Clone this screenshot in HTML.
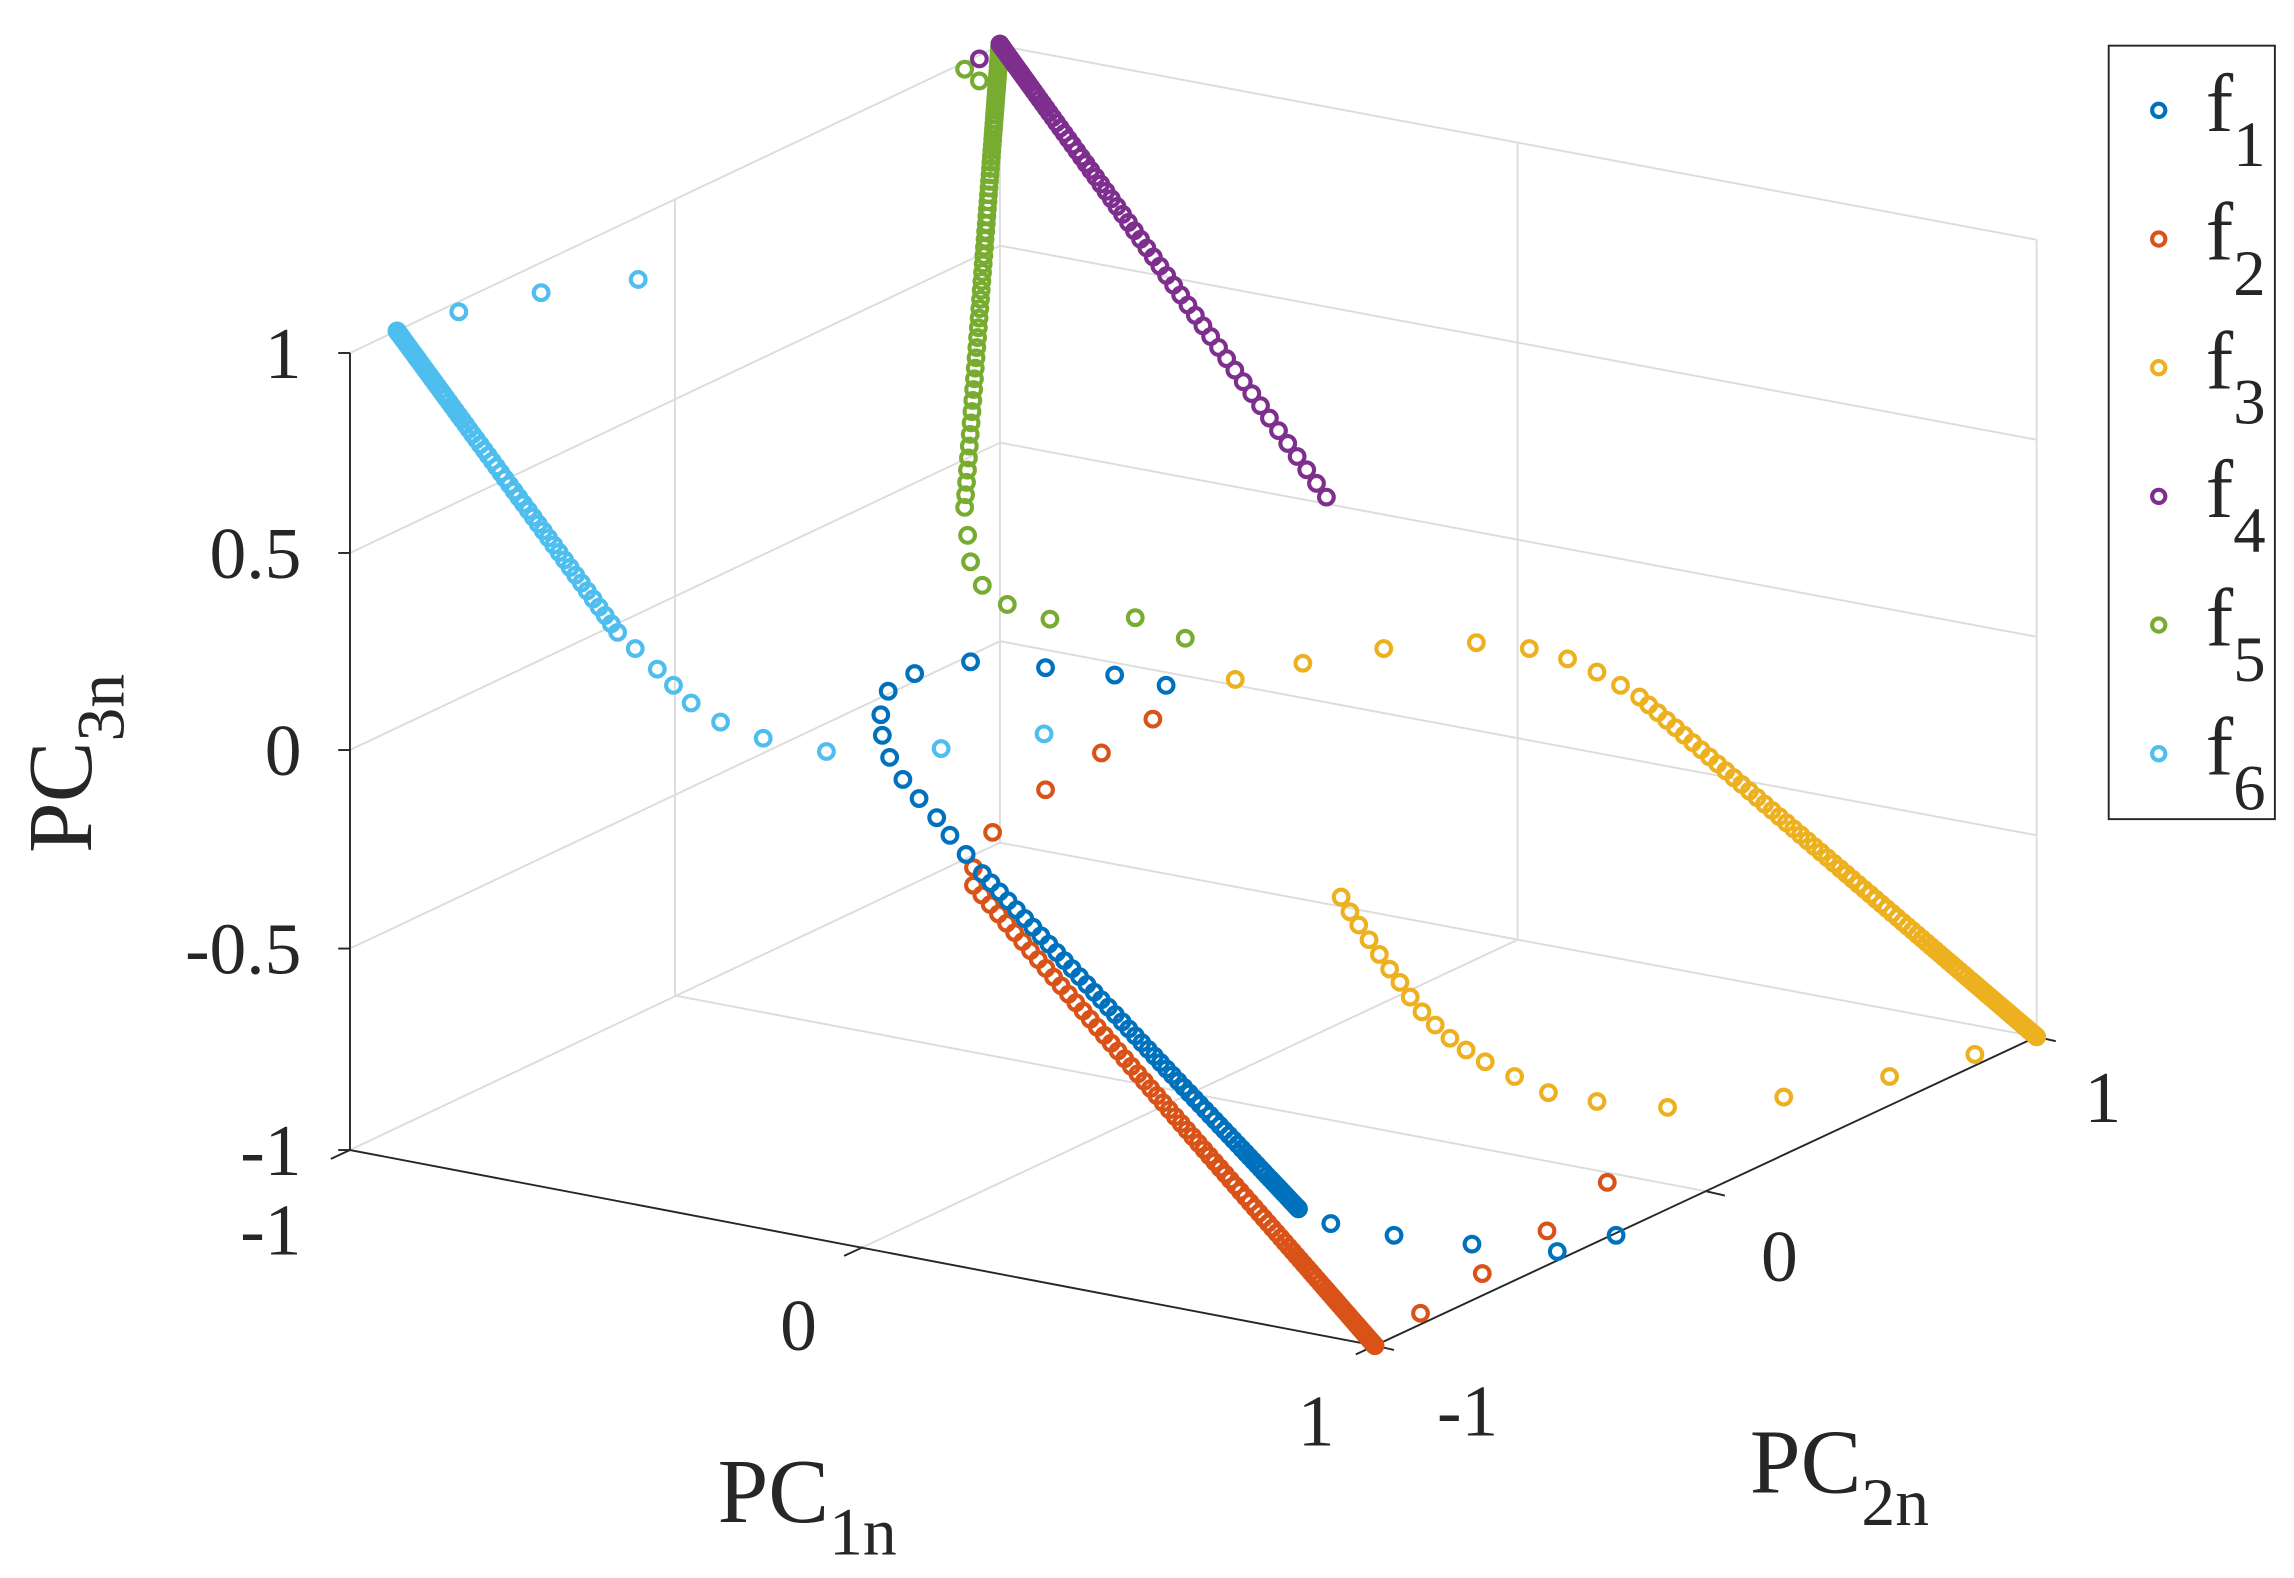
<!DOCTYPE html>
<html><head><meta charset="utf-8"><style>
html,body{margin:0;padding:0;background:#fff;}
svg{display:block;}
text{font-family:"Liberation Serif","Times New Roman",serif;fill:#262626;}
</style></head><body>
<svg id="s" width="2294" height="1578" viewBox="0 0 1560 1073" xmlns="http://www.w3.org/2000/svg">
<rect width="1560" height="1073" fill="#fff"/>
<g stroke="#dcdcdc" stroke-width="1.3" fill="none">
<line x1="238" y1="240" x2="680" y2="31"/>
<line x1="238" y1="376" x2="680" y2="167"/>
<line x1="238" y1="510" x2="680" y2="301"/>
<line x1="238" y1="645" x2="680" y2="436"/>
<line x1="459" y1="135" x2="459" y2="677"/>
<line x1="680" y1="31" x2="680" y2="573"/>
<line x1="680" y1="31" x2="1385" y2="163"/>
<line x1="680" y1="167" x2="1385" y2="299"/>
<line x1="680" y1="301" x2="1385" y2="433"/>
<line x1="680" y1="436" x2="1385" y2="568"/>
<line x1="1032" y1="97" x2="1032" y2="639"/>
<line x1="1385" y1="163" x2="1385" y2="705"/>
<line x1="680" y1="573" x2="1385" y2="705"/>
<line x1="238" y1="782" x2="680" y2="573"/>
<line x1="587" y1="848" x2="1032" y2="639"/>
<line x1="1160" y1="810" x2="459" y2="677"/>
</g>
<g stroke="#262626" stroke-width="1.3" fill="none">
<line x1="238" y1="240" x2="238" y2="782"/>
<line x1="238" y1="240" x2="230" y2="240"/>
<line x1="238" y1="376" x2="230" y2="376"/>
<line x1="238" y1="510" x2="230" y2="510"/>
<line x1="238" y1="645" x2="230" y2="645"/>
<line x1="238" y1="782" x2="230" y2="782"/>
<line x1="238" y1="782" x2="935" y2="915"/>
<line x1="238" y1="782" x2="225" y2="788"/>
<line x1="587" y1="848" x2="574" y2="854"/>
<line x1="935" y1="915" x2="922" y2="921"/>
<line x1="935" y1="915" x2="1385" y2="705"/>
<line x1="935" y1="915" x2="948" y2="918"/>
<line x1="1160" y1="810" x2="1173" y2="813"/>
<line x1="1385" y1="705" x2="1398" y2="708"/>
</g>
<g font-size="50" text-anchor="end" font-family="Liberation Serif, serif">
<text x="205" y="257">1</text>
<text x="205" y="393">0.5</text>
<text x="205" y="527">0</text>
<text x="205" y="662">-0.5</text>
<text x="205" y="799">-1</text>
<text x="205" y="853">-1</text>
</g>
<g font-size="50" text-anchor="middle" font-family="Liberation Serif, serif">
<text x="543" y="918">0</text>
<text x="895" y="983">1</text>
<text x="998" y="976">-1</text>
<text x="1210" y="871">0</text>
<text x="1430" y="763">1</text>
</g>
<g font-family="Liberation Serif, serif">
<text x="488" y="1035" font-size="62">PC<tspan font-size="46" dy="22">1n</tspan></text>
<text x="1190" y="1015" font-size="62">PC<tspan font-size="46" dy="22">2n</tspan></text>
<text transform="translate(62,580) rotate(-90)" font-size="62">PC<tspan font-size="46" dy="22">3n</tspan></text>
</g>
<rect x="1434" y="31" width="113" height="526" fill="#fff" stroke="#262626" stroke-width="1.3"/>
<g id="pts" fill="none"></g>
<g id="leg" font-family="Liberation Serif, serif"></g>
</svg>
<script>
var C=['#0072BD','#D95319','#EDB120','#7E2F8E','#77AC30','#4DBEEE'];
var g=document.getElementById('pts'),L=document.getElementById('leg'),NS='http://www.w3.org/2000/svg';
function circ(par,x,y,c,r){var e=document.createElementNS(NS,'circle');e.setAttribute('cx',x);e.setAttribute('cy',y);e.setAttribute('r',r||5);e.setAttribute('stroke',c);e.setAttribute('fill','none');e.setAttribute('stroke-width','2.8');par.appendChild(e);}
function seg(a,b,n,p){var r=[];for(var i=0;i<=n;i++){var u=1-Math.pow(1-i/n,p);r.push([a[0]+(b[0]-a[0])*u,a[1]+(b[1]-a[1])*u]);}return r;}
function draw(list,c){list.forEach(function(q){circ(g,q[0],q[1],c);});}
draw([[312,212],[368,199],[434,190],[432,441],[447,455],[458,466],[470,478],[490,491],[519,502],[562,511],[640,509],[710,499]].concat(seg([420,430],[270,225],70,2)),C[5]);
draw([[806,434],[772,420],[714,421],[685,411],[668,398],[660,382],[658,364],[656,47],[666,55]].concat(seg([656,345],[680,30],80,2.2)),C[4]);
draw([[666,40]].concat(seg([902,338],[680,30],75,2.3)),C[3]);
draw([[840,462],[886,451],[941,441],[1004,437],[1040,441],[1066,448],[1086,457],[1102,466]].concat(seg([1115,474],[1385,705],95,2.2)),C[2]);
draw([[912,610],[918,620],[924,629],[931,639],[938,649],[945,659],[952,668],[959,678],[967,688],[976,697],[986,706],[997,714],[1010,722],[1030,732],[1053,743],[1086,749],[1134,753],[1213,746],[1285,732],[1343,717]],C[2]);
draw([[1093,804],[1052,837],[1008,866],[966,893],[784,489],[749,512],[711,537],[675,566],[662,590]].concat(seg([662,602],[935,915],95,2)),C[1]);
draw([[793,466],[758,459],[711,454],[660,450],[622,458],[604,470],[599,486],[600,500],[605,515],[614,530],[625,543],[637,556],[646,568],[657,581],[905,832],[948,840],[1001,846],[1059,851],[1099,840]].concat(seg([668,594],[883,822],65,1.8)),C[0]);
for(var i=0;i<6;i++){var y=75+i*87.5;circ(L,1468,y,C[i],4.5);
var t=document.createElementNS(NS,'text');t.setAttribute('x',1500);t.setAttribute('y',y+14);t.setAttribute('font-size','56');t.textContent='f';
var s=document.createElementNS(NS,'tspan');s.setAttribute('font-size','44');s.setAttribute('dy','24');s.textContent=(i+1);t.appendChild(s);L.appendChild(t);}
</script>
</body></html>
